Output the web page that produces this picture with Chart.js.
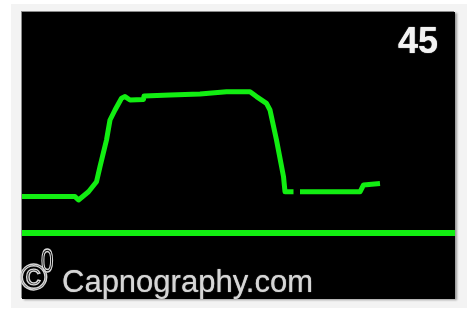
<!DOCTYPE html>
<html>
<head>
<meta charset="utf-8">
<script src="https://cdn.jsdelivr.net/npm/chart.js@4"></script>
<style>
  html, body { margin:0; padding:0; background:#ffffff; width:472px; height:309px; overflow:hidden; }
  #frame { position:absolute; left:11px; top:4px; width:456px; height:304px; background:#f3f3f3; }
  #box { position:absolute; left:22px; top:12px; width:433px; height:287px; background:#000;
         box-shadow: -1px -1px 0 #8a8a8a, 2px 1px 2px #9a9a9a; }
  #chart { position:absolute; left:22px; top:12px; }
  .t { position:absolute; font-family:"Liberation Sans", Arial, sans-serif; line-height:1; white-space:nowrap; }
  #top { right:34px; top:23px; font-size:36px; font-weight:bold; color:#f2f2f2; text-shadow:0 0 1px #fff; }
  #zero { left:41px; top:244px; font-size:33px; color:transparent; -webkit-text-stroke:1.5px #d8d8d8; transform:scaleX(0.68); transform-origin:left top; }
  #copy { left:20px; top:259px; font-size:37px; color:transparent; -webkit-text-stroke:1.4px #d8d8d8; }
  #brand { left:62px; top:266px; font-size:31px; color:#d6d6d6; text-shadow:0 0 1px #bbb; }
</style>
</head>
<body>
<div id="frame"></div>
<div id="box"></div>
<canvas id="chart" width="433" height="287"></canvas>
<div class="t" id="top">45</div>
<div class="t" id="zero">0</div>
<div class="t" id="copy">©</div>
<div class="t" id="brand">Capnography.com</div>
<script>
// Waveform (time units, CO2 units); null = small break in trace
const waveX = [0, 10.6, 11.3, 13.3, 14.9, 15.6, 16.9, 17.6, 18.6, 19.9, 20.6, 21.6, 24.3, 24.4, 29.6, 35.6, 40.9, 45.6, 46.9, 48.9, 49.6, 50.9, 52.3, 52.6, 54.3, 54.6, 55.6, 67.6, 68.3, 71.6];
const waveY = [9.1, 9.1, 8.25, 10.3, 12.8, 16.6, 23.25, 28.25, 30.75, 33.7, 34.1, 33.25, 33.4, 34.25, 34.5, 34.75, 35.3, 35.3, 34.1, 32.4, 30.75, 23.25, 14.1, 10.3, 10.3, null, 10.3, 10.3, 12.0, 12.4];
// Zero reference line
const zeroX = [0, 86.6];
const zeroY = [0, 0];
// Scale labels
const scaleTop = "45";
const scaleBottom = "0";

const green = '#12ee12';
const wave = waveX.map((x, i) => ({x: x, y: waveY[i]}));
const zero = zeroX.map((x, i) => ({x: x, y: zeroY[i]}));

new Chart(document.getElementById('chart'), {
  type: 'line',
  data: {
    datasets: [
      { data: wave, borderColor: green, borderWidth: 5, pointRadius: 0, tension: 0, spanGaps: false, borderJoinStyle: 'round', borderCapStyle: 'butt', clip: 10 },
      { data: zero, borderColor: green, borderWidth: 6, pointRadius: 0, tension: 0, clip: 10 }
    ]
  },
  options: {
    responsive: false,
    animation: false,
    events: [],
    layout: { padding: 0 },
    plugins: { legend: { display: false }, tooltip: { enabled: false }, title: { display: false } },
    scales: {
      x: { type: 'linear', display: false, min: 0, max: 86.6 },
      y: { type: 'linear', display: false, min: -16.5, max: 55.25 }
    }
  }
});
document.getElementById('top').textContent = scaleTop;
document.getElementById('zero').textContent = scaleBottom;
</script>
</body>
</html>
